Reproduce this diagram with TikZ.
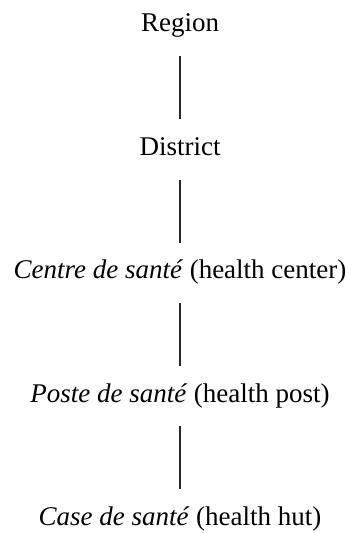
\documentclass[tikz,border=0pt]{standalone}
\usepackage{fontspec}
\setmainfont{Liberation Serif}
\usepackage{tikz}
\usetikzlibrary{positioning}

\begin{document}
\begin{tikzpicture}[x=1pt, y=1pt,
        level/.style={inner sep=0pt, text height=20pt, text depth=6pt, font=\fontsize{27}{32}\selectfont},
        link/.style={draw=black!85, line width=1.3pt, shorten <=18pt, shorten >=16pt}
    ]
        \useasboundingbox (0,0) rectangle (351,533);

        % Levels
        \node[level, anchor=base] (region) at (180,501) {Region};
        \node[level, below=97pt of region] (district) {District};
        \node[level, below=97pt of district] (centre) {\textit{Centre de santé} (health center)};
        \node[level, below=97pt of centre] (poste) {\textit{Poste de santé} (health post)};
        \node[level, below=97pt of poste] (case) {\textit{Case de santé} (health hut)};

        % Connectors
        \draw[link] (region.south) -- (district.north);
        \draw[link] (district.south) -- (centre.north);
        \draw[link] (centre.south) -- (poste.north);
        \draw[link] (poste.south) -- (case.north);

    \end{tikzpicture}
\end{document}
